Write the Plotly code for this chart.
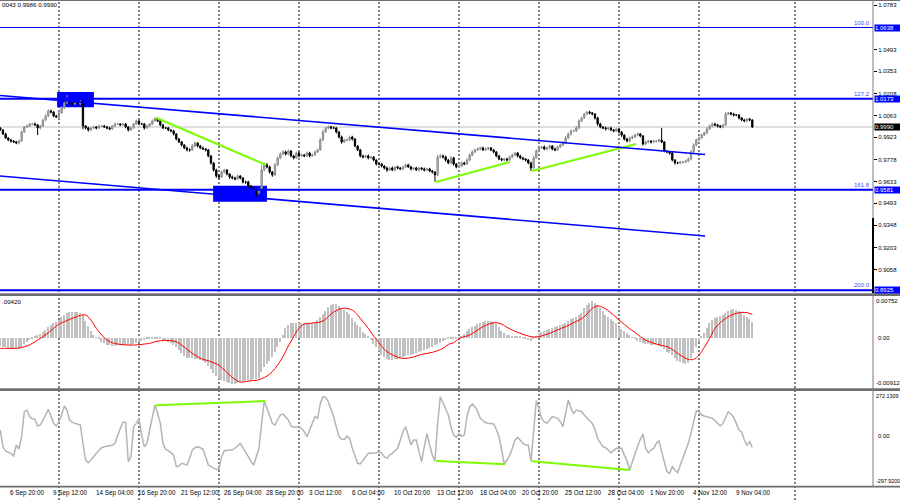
import plotly.graph_objects as go

# ---------------- data (EURUSD H4, bar index 0 = 6 Sep 08:00) ----------------
first_open = 0.9983
close = [
0.9970,0.9944,0.9918,0.9905,0.9898,0.9892,0.9885,0.9898,0.9957,0.9990,
0.9996,1.0009,1.0009,1.0003,0.9983,0.9996,1.0035,1.0061,1.0094,1.0087,
1.0061,1.0055,1.0081,1.0114,1.0146,1.0159,1.0146,1.0140,1.0146,1.0140,
1.0153,0.9996,0.9983,0.9970,0.9983,0.9990,0.9983,0.9996,0.9996,0.9990,
0.9983,0.9977,0.9996,1.0009,1.0009,1.0003,1.0009,0.9990,0.9970,0.9983,
1.0009,1.0029,1.0009,1.0009,0.9983,0.9996,1.0009,1.0029,1.0042,1.0029,
1.0003,0.9983,0.9983,0.9970,0.9964,0.9944,0.9911,0.9892,0.9872,0.9853,
0.9840,0.9840,0.9866,0.9885,0.9866,0.9853,0.9846,0.9840,0.9801,0.9755,
0.9709,0.9670,0.9664,0.9696,0.9709,0.9683,0.9664,0.9657,0.9651,0.9670,
0.9657,0.9631,0.9631,0.9605,0.9592,0.9579,0.9559,0.9579,0.9709,0.9742,
0.9729,0.9696,0.9677,0.9742,0.9788,0.9814,0.9827,0.9814,0.9833,0.9801,
0.9788,0.9820,0.9801,0.9807,0.9801,0.9820,0.9801,0.9807,0.9827,0.9840,
0.9905,0.9957,0.9983,0.9990,0.9983,0.9983,0.9957,0.9924,0.9892,0.9905,
0.9905,0.9924,0.9911,0.9866,0.9840,0.9801,0.9794,0.9801,0.9788,0.9794,
0.9774,0.9748,0.9748,0.9735,0.9722,0.9709,0.9722,0.9709,0.9729,0.9722,
0.9716,0.9729,0.9742,0.9729,0.9716,0.9722,0.9709,0.9722,0.9716,0.9709,
0.9716,0.9703,0.9696,0.9677,0.9794,0.9801,0.9794,0.9774,0.9755,0.9788,
0.9748,0.9729,0.9735,0.9755,0.9748,0.9774,0.9807,0.9827,0.9840,0.9846,
0.9853,0.9840,0.9846,0.9853,0.9840,0.9827,0.9801,0.9781,0.9774,0.9781,
0.9774,0.9794,0.9807,0.9820,0.9801,0.9788,0.9781,0.9774,0.9755,0.9722,
0.9788,0.9833,0.9853,0.9859,0.9846,0.9853,0.9866,0.9846,0.9840,0.9859,
0.9872,0.9885,0.9918,0.9944,0.9964,0.9964,0.9983,1.0029,1.0048,1.0074,
1.0087,1.0081,1.0074,1.0048,1.0009,0.9990,0.9983,0.9977,0.9983,0.9970,
0.9964,0.9977,0.9957,0.9937,0.9911,0.9898,0.9918,0.9924,0.9937,0.9944,
0.9931,0.9879,0.9892,0.9898,0.9892,0.9898,0.9898,0.9905,0.9892,0.9833,
0.9827,0.9820,0.9774,0.9755,0.9755,0.9761,0.9761,0.9768,0.9781,0.9827,
0.9872,0.9905,0.9918,0.9937,0.9951,0.9977,0.9996,1.0009,1.0003,0.9996,
0.9990,1.0003,1.0074,1.0081,1.0074,1.0068,1.0068,1.0048,1.0035,1.0029,
1.0042,1.0035,0.9990]

# upper / lower shadow length of each candle, in pips
wick_up_pips = [
6,5,8,4,6,5,7,9,10,6, 8,7,5,9,6,7,8,12,10,9, 6,8,10,12,15,40,9,8,10,7,
12,10,6,8,5,7,6,9,5,7, 6,8,7,10,6,5,8,7,6,9, 8,10,5,7,6,9,8,10,12,6,
5,7,6,8,5,6,5,7,6,5, 8,10,12,9,6,7,8,5,6,4, 5,8,12,10,7,6,5,9,8,10,
6,5,7,8,6,5,7,10,31,15, 12,8,6,14,9,10,12,8,10,6, 7,10,8,9,7,10,8,9,10,8,
12,14,10,12,8,9,6,7,10,8, 9,10,8,6,5,7,8,6,9,5, 6,5,8,7,6,9,8,10,7,8,
6,9,10,8,7,6,8,7,6,9, 8,7,6,5,16,12,8,9,6,12, 7,6,9,10,8,12,10,9,8,10,
9,8,10,7,6,5,6,7,8,6, 8,10,9,8,6,7,6,5,6,8, 14,10,9,8,10,9,8,6,9,10,
8,10,12,9,10,8,12,10,9,8, 6,8,7,6,8,7,6,9,8,7, 6,8,5,6,5,8,9,10,8,9,
7,5,8,7,6,9,8,7,78,6, 5,6,7,5,8,6,7,9,10,12, 10,8,9,10,8,12,9,10,8,7,
6,8,13,6,7,8,6,5,7,8, 6,7,5]
wick_dn_pips = [
5,7,6,8,9,7,8,10,6,8, 7,6,8,5,46,9,6,8,7,9, 8,6,7,5,8,6,9,7,8,6,
7,21,9,10,8,6,9,7,8,6, 9,8,6,7,5,8,6,9,10,7, 6,5,8,7,10,6,5,7,6,8,
9,7,6,8,9,10,8,7,9,8, 10,12,6,7,9,8,7,10,9,11, 10,12,15,8,9,10,12,9,10,8,
9,10,12,9,11,10,24,10,6,8, 9,10,12,8,7,9,8,10,9,8, 10,7,8,6,9,8,10,7,6,8,
6,8,7,9,8,6,10,9,12,8, 9,8,10,9,8,10,9,8,10,7, 9,10,8,9,10,12,8,7,9,8,
7,9,8,6,10,8,7,9,8,10, 9,8,10,45,8,10,9,11,8,9, 10,9,8,7,8,6,9,8,7,6,
8,7,6,9,8,10,9,8,7,9, 8,7,9,8,10,9,8,10,9,19, 8,7,9,6,8,10,7,9,8,6,
7,8,6,9,10,8,7,9,8,6, 7,9,8,10,12,9,8,10,9,8, 9,8,10,12,9,8,10,9,7,8,
9,10,8,9,10,8,9,10,8,9, 10,12,9,10,8,9,10,8,9,10, 9,8,7,6,8,9,7,8,9,10,
8,9,7,8,9,10,8,9,7,8, 9,8,7]

# MACD(12,26,9) main values (histogram), one per bar
macd_hist = [
-153e-5,-165e-5,-177e-5,-189e-5,-201e-5,-207e-5,-213e-5,-201e-5,-165e-5,-123e-5,
-81e-5,-45e-5,-14e-5,16e-5,40e-5,64e-5,94e-5,136e-5,185e-5,233e-5,
263e-5,275e-5,317e-5,366e-5,408e-5,438e-5,456e-5,468e-5,462e-5,456e-5,
450e-5,408e-5,305e-5,209e-5,124e-5,52e-5,4e-5,-32e-5,-75e-5,-105e-5,
-129e-5,-141e-5,-147e-5,-147e-5,-141e-5,-135e-5,-129e-5,-129e-5,-135e-5,-135e-5,
-117e-5,-93e-5,-75e-5,-57e-5,-45e-5,-32e-5,-26e-5,-14e-5,-8e-5,-14e-5,
-26e-5,-45e-5,-57e-5,-75e-5,-105e-5,-135e-5,-177e-5,-225e-5,-286e-5,-334e-5,
-364e-5,-376e-5,-376e-5,-382e-5,-394e-5,-406e-5,-424e-5,-455e-5,-515e-5,-575e-5,
-635e-5,-696e-5,-744e-5,-768e-5,-780e-5,-798e-5,-816e-5,-834e-5,-840e-5,-828e-5,
-810e-5,-792e-5,-780e-5,-768e-5,-768e-5,-756e-5,-744e-5,-732e-5,-617e-5,-539e-5,
-479e-5,-418e-5,-346e-5,-256e-5,-165e-5,-75e-5,46e-5,167e-5,227e-5,257e-5,
269e-5,269e-5,263e-5,269e-5,269e-5,263e-5,257e-5,263e-5,275e-5,317e-5,
378e-5,426e-5,486e-5,546e-5,583e-5,601e-5,607e-5,571e-5,528e-5,498e-5,
462e-5,426e-5,347e-5,287e-5,227e-5,185e-5,106e-5,58e-5,16e-5,-45e-5,
-117e-5,-177e-5,-237e-5,-316e-5,-358e-5,-388e-5,-400e-5,-400e-5,-394e-5,-382e-5,
-364e-5,-346e-5,-334e-5,-322e-5,-310e-5,-298e-5,-286e-5,-268e-5,-250e-5,-225e-5,
-207e-5,-183e-5,-165e-5,-141e-5,-117e-5,-93e-5,-69e-5,-45e-5,-26e-5,-26e-5,
-26e-5,-20e-5,-8e-5,16e-5,64e-5,124e-5,161e-5,185e-5,209e-5,245e-5,
269e-5,287e-5,299e-5,305e-5,299e-5,275e-5,239e-5,185e-5,124e-5,76e-5,
52e-5,40e-5,28e-5,22e-5,16e-5,16e-5,4e-5,-20e-5,-45e-5,-57e-5,
-32e-5,28e-5,76e-5,100e-5,118e-5,130e-5,148e-5,173e-5,191e-5,209e-5,
227e-5,245e-5,269e-5,299e-5,329e-5,353e-5,378e-5,408e-5,450e-5,528e-5,
589e-5,631e-5,655e-5,619e-5,583e-5,528e-5,480e-5,408e-5,366e-5,329e-5,
293e-5,257e-5,197e-5,161e-5,124e-5,88e-5,46e-5,4e-5,-32e-5,-63e-5,
-81e-5,-105e-5,-111e-5,-117e-5,-129e-5,-135e-5,-141e-5,-147e-5,-165e-5,-213e-5,
-256e-5,-286e-5,-322e-5,-376e-5,-418e-5,-442e-5,-467e-5,-479e-5,-455e-5,-376e-5,
-286e-5,-177e-5,-75e-5,16e-5,88e-5,167e-5,257e-5,317e-5,353e-5,378e-5,
396e-5,414e-5,450e-5,480e-5,498e-5,510e-5,504e-5,486e-5,456e-5,414e-5,
378e-5,335e-5,287e-5]

# MACD signal line, read every second bar
signal_every = 2
macd_signal = [
-195e-5,-195e-5,-195e-5,-195e-5,-177e-5,-153e-5,-105e-5,-45e-5,16e-5,88e-5,
167e-5,245e-5,287e-5,329e-5,366e-5,402e-5,408e-5,317e-5,167e-5,46e-5,
-45e-5,-93e-5,-117e-5,-129e-5,-135e-5,-135e-5,-129e-5,-117e-5,-105e-5,-75e-5,
-57e-5,-51e-5,-57e-5,-75e-5,-135e-5,-213e-5,-286e-5,-346e-5,-394e-5,-418e-5,
-455e-5,-497e-5,-587e-5,-678e-5,-756e-5,-804e-5,-798e-5,-780e-5,-774e-5,-744e-5,
-696e-5,-617e-5,-497e-5,-346e-5,-153e-5,16e-5,167e-5,245e-5,257e-5,269e-5,
281e-5,329e-5,426e-5,486e-5,528e-5,528e-5,498e-5,408e-5,287e-5,167e-5,
28e-5,-93e-5,-213e-5,-286e-5,-334e-5,-370e-5,-376e-5,-364e-5,-334e-5,-304e-5,
-286e-5,-268e-5,-237e-5,-195e-5,-123e-5,-93e-5,-20e-5,16e-5,46e-5,106e-5,
167e-5,221e-5,257e-5,269e-5,245e-5,185e-5,136e-5,94e-5,58e-5,28e-5,
10e-5,16e-5,46e-5,76e-5,118e-5,161e-5,197e-5,245e-5,293e-5,341e-5,
426e-5,528e-5,571e-5,546e-5,486e-5,408e-5,317e-5,239e-5,161e-5,94e-5,
16e-5,-45e-5,-87e-5,-117e-5,-141e-5,-165e-5,-213e-5,-286e-5,-346e-5,-394e-5,
-394e-5,-316e-5,-177e-5,-14e-5,167e-5,269e-5,347e-5,402e-5,438e-5,456e-5,
450e-5,420e-5]

# CCI, one per bar
cci = [
38,-62,-88,-96,-104,-118,-52,-76,-2,148, 158,118,106,102,62,68,94,128,162,118,
78,62,88,128,182,158,98,84,78,72, 68,-42,-142,-158,-142,-122,-102,-82,-68,-62,
-58,-56,-54,-42,8,48,84,84,-152,-122, 58,78,108,8,-62,-42,38,118,188,138,
78,-42,-78,-86,-98,-112,-182,-178,-162,-166, -172,-132,-82,-68,-62,-68,-78,-122,-172,-182,
-192,-198,-198,-122,-86,-82,-82,-82,-72,-58, -42,-66,-96,-122,-152,-172,-122,-72,78,212,
168,128,78,68,98,128,134,118,98,62, 54,58,54,48,28,-2,38,78,118,108,
198,238,234,208,168,118,58,-2,-16,-18, 2,-12,-72,-122,-162,-166,-146,-122,-102,-102,
-102,-98,-92,-102,-122,-132,-112,-102,-86,-72, -22,28,58,-2,-52,-22,-22,-92,-152,-62,
18,-52,-112,-148,78,238,198,168,128,58, 8,-6,18,2,8,118,178,194,178,148,
108,94,82,78,78,74,42,-2,-82,-166, -142,-114,-72,-22,-6,-26,-42,-52,-52,-150,
38,214,168,108,88,78,98,118,114,108, 88,58,138,218,168,138,158,154,148,128,
108,94,78,42,-12,-38,-62,-68,-82,-98, -86,-72,-72,-72,-112,-146,-202,-152,-102,-58,
-18,14,-72,-98,-82,-72,-42,-26,-92,-162, -212,-222,-182,-202,-218,-172,-126,-82,-42,18,
82,154,148,128,122,118,114,108,94,78, 62,78,118,148,134,114,78,38,26,-22,
-52,-32,-66]

time_label_bars = [3, 19, 35, 51, 67, 83, 99, 115, 131, 147, 163, 179, 195, 211, 227, 243, 259, 275]
time_labels = ["6 Sep 20:00", "9 Sep 12:00", "14 Sep 04:00", "16 Sep 20:00", "21 Sep 12:00",
               "26 Sep 04:00", "28 Sep 20:00", "3 Oct 12:00", "6 Oct 04:00", "10 Oct 20:00",
               "13 Oct 12:00", "18 Oct 04:00", "20 Oct 20:00", "25 Oct 12:00", "28 Oct 04:00",
               "1 Nov 20:00", "4 Nov 12:00", "9 Nov 04:00"]
week_start_bars = [22, 52, 82, 112, 142, 172, 202, 232, 262, 298]

price_ticks = [1.0783, 1.0493, 1.0353, 1.0208, 1.0063, 0.9923, 0.9778, 0.9633,
               0.9493, 0.9348, 0.9203, 0.9058]
fib_levels = [1.0638, 1.0173, 0.9581, 0.8925]
fib_names = ["100.0", "127.2", "161.8", "200.0"]
last_price = 0.9990
header_text = "0043 0.9986 0.9990"
macd_header = ".00420"
macd_scale = [0.00752, -0.00912]
cci_scale = [272.1309, -297.9200]

channel_bars = [-0.11, 264.3]
channel_upper = [1.0195, 0.9810]
channel_lower = [0.9670, 0.9279]
zones = [(21.3, 35.1, 1.0119, 1.0217), (79.8, 100.0, 0.9502, 0.9606)]
price_div = [((58.4, 1.0050), (99.3, 0.9745)), ((163.4, 0.9631), (191.1, 0.9761)),
             ((199.4, 0.9703), (238.4, 0.9879))]
cci_div = [((58.4, 186), (99.3, 212)), ((163.4, -148), (189.3, -168)),
           ((199.3, -150), (236.1, -202))]

# ---------------- build ----------------
n = min(len(close), len(wick_up_pips), len(wick_dn_pips))
bars = list(range(n))
opens = [first_open] + close[:n - 1]
highs = [max(o, c) + u / 10000 for o, c, u in zip(opens, close[:n], wick_up_pips)]
lows = [min(o, c) - d / 10000 for o, c, d in zip(opens, close[:n], wick_dn_pips)]

H = 487.0  # plot-area height in px
def py(pix):
    return (H - pix) / H

FONT = "Liberation Sans, Arial, sans-serif"
BLUE = "#0000ff"
GREEN = "#7cfc00"

fig = go.Figure()
fig.add_trace(go.Candlestick(
    x=bars, open=opens, high=highs, low=lows, close=close[:n],
    increasing=dict(line=dict(color="#8a8a8a", width=1), fillcolor="#bdbdbd"),
    decreasing=dict(line=dict(color="#000000", width=1), fillcolor="#000000"),
    whiskerwidth=0, xaxis="x", yaxis="y", showlegend=False, hoverinfo="skip"))

for (a, b) in price_div:
    fig.add_trace(go.Scatter(x=[a[0], b[0]], y=[a[1], b[1]], mode="lines",
                             line=dict(color=GREEN, width=2), yaxis="y",
                             showlegend=False, hoverinfo="skip"))

fig.add_trace(go.Bar(x=list(range(len(macd_hist))), y=macd_hist, width=0.5,
                     marker=dict(color="#c0c0c0", line=dict(width=0)),
                     yaxis="y2", showlegend=False, hoverinfo="skip"))
fig.add_trace(go.Scatter(x=[i * signal_every for i in range(len(macd_signal))], y=macd_signal,
                         mode="lines", line=dict(color="#ff0000", width=1, shape="spline"),
                         yaxis="y2", showlegend=False, hoverinfo="skip"))

fig.add_trace(go.Scatter(x=list(range(len(cci))), y=cci, mode="lines",
                         line=dict(color="#b4b4b4", width=1.5),
                         yaxis="y3", showlegend=False, hoverinfo="skip"))
for (a, b) in cci_div:
    fig.add_trace(go.Scatter(x=[a[0], b[0]], y=[a[1], b[1]], mode="lines",
                             line=dict(color=GREEN, width=2), yaxis="y3",
                             showlegend=False, hoverinfo="skip"))

shapes = []
# weekly separators (dotted)
for b in week_start_bars:
    shapes.append(dict(type="line", xref="x", yref="paper", x0=b, x1=b, y0=-13 / H, y1=1,
                       line=dict(color="#000000", width=1, dash="2px,2px"), layer="below"))
# current price line
shapes.append(dict(type="line", xref="paper", yref="y", x0=0, x1=1, y0=last_price, y1=last_price,
                   line=dict(color="#d4d4d4", width=1.5), layer="below"))
# zones
for (x0, x1, y0, y1) in zones:
    shapes.append(dict(type="rect", xref="x", yref="y", x0=x0, x1=x1, y0=y0, y1=y1,
                       fillcolor=BLUE, line=dict(width=0), layer="below"))
# channel
for ys in (channel_upper, channel_lower):
    shapes.append(dict(type="line", xref="x", yref="y", x0=channel_bars[0], x1=channel_bars[1],
                       y0=ys[0], y1=ys[1], line=dict(color=BLUE, width=1.6)))
# fib levels
for lv, nm in zip(fib_levels, fib_names):
    shapes.append(dict(type="line", xref="paper", yref="y", x0=0, x1=1, y0=lv, y1=lv,
                       line=dict(color=BLUE, width=1.1 if nm == "100.0" else 2)))
# pane separators and borders
xr = 1 + 27 / 873
for pix, w in ((0.5, 1), (294.6, 2.6), (389.6, 2.6), (486.6, 1.6)):
    shapes.append(dict(type="line", xref="paper", yref="paper", x0=0, x1=xr, y0=py(pix), y1=py(pix),
                       line=dict(color="#6e6e6e", width=w)))
shapes.append(dict(type="line", xref="paper", yref="paper", x0=1, x1=1, y0=py(487), y1=py(0),
                   line=dict(color="#7a7a7a", width=1)))
shapes.append(dict(type="line", xref="paper", yref="y", x0=1, x1=1, y0=0.9396, y1=0.8907,
                   line=dict(color="#000000", width=2)))

ann = []
for b, t in zip(time_label_bars, time_labels):
    ann.append(dict(x=b, xref="x", y=py(492.5), yref="paper", text=t, showarrow=False,
                    xanchor="left", yanchor="middle", font=dict(family=FONT, size=6.3, color="#000")))
ann.append(dict(x=0, xref="paper", y=py(5), yref="paper", text=header_text, showarrow=False,
                xanchor="left", yanchor="middle", font=dict(family=FONT, size=6.2, color="#000")))
ann.append(dict(x=0, xref="paper", y=py(301), yref="paper", text=macd_header, showarrow=False,
                xanchor="left", yanchor="middle", font=dict(family=FONT, size=6.2, color="#000")))
for lv, nm in zip(fib_levels, fib_names):
    ann.append(dict(x=1, xref="paper", y=lv, yref="y", text=nm, showarrow=False,
                    xanchor="right", yanchor="bottom", xshift=-1, yshift=0,
                    font=dict(family=FONT, size=6, color="#4646ff")))
    ann.append(dict(x=1, xref="paper", y=lv, yref="y", text="%.4f" % lv, showarrow=False,
                    xanchor="left", yanchor="middle", xshift=1, width=25, height=6, align="left",
                    bgcolor=BLUE, borderpad=0, font=dict(family=FONT, size=6, color="#fff")))
ann.append(dict(x=1, xref="paper", y=last_price, yref="y", text="%.4f" % last_price, showarrow=False,
                xanchor="left", yanchor="middle", xshift=1, width=25, height=6, align="left",
                bgcolor="#000000", borderpad=0, font=dict(family=FONT, size=6, color="#fff")))
for yref, (top, bot) in (("y2", macd_scale), ("y3", cci_scale)):
    fmt = "%.5f" if yref == "y2" else "%.4f"
    fs = 6 if yref == "y2" else 5.4
    ann.append(dict(x=1, xref="paper", y=top, yref=yref, text=fmt % top, showarrow=False,
                    xanchor="left", yanchor="top", xshift=1, font=dict(family=FONT, size=fs, color="#000")))
    ann.append(dict(x=1, xref="paper", y=0, yref=yref, text="0.00", showarrow=False,
                    xanchor="left", yanchor="middle", xshift=3, font=dict(family=FONT, size=6, color="#000")))
    ann.append(dict(x=1, xref="paper", y=bot, yref=yref, text=fmt % bot, showarrow=False,
                    xanchor="left", yanchor="bottom", xshift=1, font=dict(family=FONT, size=fs, color="#000")))

fig.update_layout(
    width=900, height=500, autosize=False,
    margin=dict(l=0, r=27, t=0, b=13),
    paper_bgcolor="white", plot_bgcolor="white",
    showlegend=False, bargap=0,
    xaxis=dict(range=[-0.1125, 327.26], showgrid=False, zeroline=False, showticklabels=False,
               rangeslider=dict(visible=False), fixedrange=True, anchor="y3"),
    yaxis=dict(domain=[py(293), py(1)], range=[0.8907, 1.0811], side="right",
               tickvals=price_ticks, ticktext=["%.4f" % t for t in price_ticks],
               ticks="outside", ticklen=3, tickcolor="#000", tickwidth=1,
               tickfont=dict(family=FONT, size=6, color="#000"),
               showgrid=False, zeroline=False, fixedrange=True, anchor="x"),
    yaxis2=dict(domain=[py(388), py(296)], range=[macd_scale[1], macd_scale[0]],
                showticklabels=False, showgrid=False, zeroline=False, fixedrange=True, anchor="x"),
    yaxis3=dict(domain=[py(486), py(391)], range=[cci_scale[1], cci_scale[0]],
                showticklabels=False, showgrid=False, zeroline=False, fixedrange=True, anchor="x"),
    shapes=shapes, annotations=ann,
)

fig.write_html("out.html", config={"displayModeBar": False},
               post_script="document.body.style.margin='0';document.body.style.overflow='hidden';")
